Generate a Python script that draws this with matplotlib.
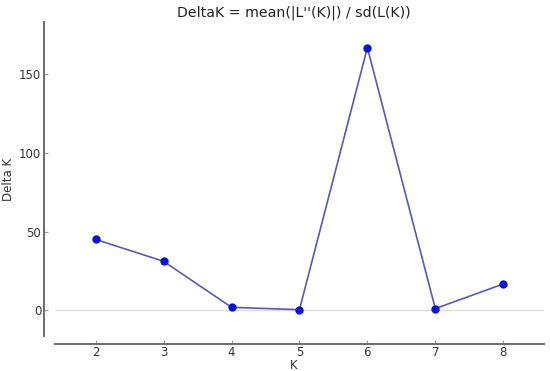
import numpy as np
import matplotlib
matplotlib.use("Agg")
import matplotlib.pyplot as plt

k_values = [2, 3, 4, 5, 6, 7, 8]
delta_k = [45.0, 31.1, 1.9, 0.4, 166.7, 1.1, 16.7]
y_ticks = [0, 50, 100, 150]

fig = plt.figure(figsize=(5.5, 3.71), dpi=100)
# axes box in pixels: left 44, right 544, top 22, bottom 336
ax = fig.add_axes([44/550, 1 - 336/371, 500/550, 314/371])

ax.hlines(0, 1.4, 8.6, color='#dddddd', linewidth=1.0, zorder=1)
ax.plot(k_values, delta_k, color='#5a5ab4', linewidth=1.2, zorder=2)
ax.plot(k_values, delta_k, 'o', color='#0a14d2', markersize=5, zorder=3)

ax.set_xlim(1.24, 8.6)
ax.set_ylim(-16.3, 183)
ax.set_xticks(k_values)
ax.set_yticks(y_ticks)

for side in ['top', 'right']:
    ax.spines[side].set_visible(False)
ax.spines['left'].set_color('#707070')
ax.spines['left'].set_linewidth(1.5)
ax.spines['bottom'].set_color('#707070')
ax.spines['bottom'].set_linewidth(1.5)
ax.spines['bottom'].set_position(('outward', 6))
ax.spines['bottom'].set_bounds(1.4, 8.6)

ax.tick_params(axis='both', direction='in', length=3, width=0.8,
               color='#999999', labelsize=8.5, labelcolor='#333333')
ax.tick_params(axis='x', pad=1)
ax.tick_params(axis='y', pad=2)

ax.set_xlabel('K', fontsize=8.5, color='#333333', labelpad=0)
ax.set_ylabel('Delta K', fontsize=8.5, color='#333333', labelpad=3)
ax.set_title("DeltaK = mean(|L''(K)|) / sd(L(K))", fontsize=10.2,
             color='#222222', pad=4)

fig.savefig("out.png", dpi=100)
